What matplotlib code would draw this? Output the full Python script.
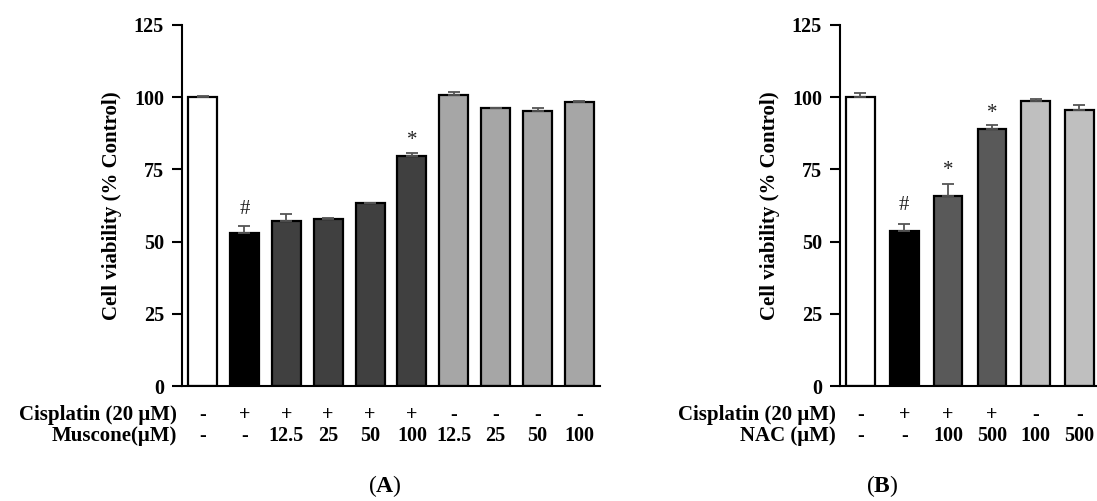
import matplotlib
matplotlib.use("Agg")
import matplotlib.pyplot as plt
import matplotlib.transforms as mtransforms

plt.rcParams['font.family'] = ['Liberation Serif', 'DejaVu Serif']
plt.rcParams['mathtext.fontset'] = 'custom'
plt.rcParams['mathtext.rm'] = 'Liberation Serif'
plt.rcParams['mathtext.bf'] = 'Liberation Serif:bold'

# panel A data
a_values = [100.0, 52.9, 57.3, 57.7, 63.2, 79.6, 100.9, 96.1, 95.2, 98.2]
a_errors = [0.5, 2.6, 2.4, 0.4, 0.3, 1.1, 1.0, 0.3, 0.9, 0.5]
a_colors = ['white', 'black', '#404040', '#404040', '#404040', '#404040',
            '#a6a6a6', '#a6a6a6', '#a6a6a6', '#a6a6a6']
a_cis = ['-', '+', '+', '+', '+', '+', '-', '-', '-', '-']
a_mus = ['-', '-', '12.5', '25', '50', '100', '12.5', '25', '50', '100']
a_marks = {1: ('#', 61), 5: ('*', 85)}

# panel B data
b_values = [100.0, 53.6, 65.9, 88.9, 98.6, 95.5]
b_errors = [1.6, 2.6, 4.2, 1.4, 0.8, 1.7]
b_colors = ['white', 'black', '#595959', '#595959', '#bfbfbf', '#bfbfbf']
b_cis = ['-', '+', '+', '+', '-', '-']
b_nac = ['-', '-', '100', '500', '100', '500']
b_marks = {1: ('#', 62.5), 2: ('*', 74.5), 3: ('*', 94.5)}

W, H = 1097, 501
fig = plt.figure(figsize=(W / 100, H / 100), dpi=100)


def panel(x0, x1, xlim, values, errors, colors, marks, width, row1, row2,
          name1, name2, label_right, ylab_x, letter, letter_x):
    ax = fig.add_axes([x0 / W, (H - 386) / H, (x1 - x0) / W, 361 / H])
    x = list(range(len(values)))
    ax.bar(x, values, width=width, color=colors, edgecolor='black', linewidth=1.6, zorder=2)
    ax.errorbar(x, values, yerr=[[0] * len(values), errors], fmt='none',
                ecolor='#555555', elinewidth=1.3, capsize=4, capthick=1.3, zorder=3)
    for i, (sym, yv) in marks.items():
        ax.text(i, yv, sym, ha='center', va='center', fontsize=15, color='#222222')
    ax.set_xlim(*xlim)
    ax.set_ylim(0, 125)
    ax.set_yticks([0, 25, 50, 75, 100, 125])
    ax.set_xticks([])
    ax.tick_params(axis='y', direction='out', length=7, width=1.5, labelsize=14.5, pad=6)
    for lab in ax.get_yticklabels():
        lab.set_fontweight('bold')
    for s in ['top', 'right']:
        ax.spines[s].set_visible(False)
    ax.spines['left'].set_linewidth(1.5)
    ax.spines['bottom'].set_linewidth(1.5)

    tr = mtransforms.blended_transform_factory(ax.transData, fig.transFigure)
    y1 = (H - 415) / H
    y2 = (H - 436) / H
    for i in x:
        ax.text(i, y1, row1[i], transform=tr, ha='center', va='center',
                fontsize=14.5, fontweight='bold', clip_on=False)
        ax.text(i, y2, row2[i], transform=tr, ha='center', va='center',
                fontsize=14.5, fontweight='bold', clip_on=False)
    fig.text(label_right / W, y1, name1, ha='right', va='center', fontsize=15, fontweight='bold')
    fig.text(label_right / W, y2, name2, ha='right', va='center', fontsize=15, fontweight='bold')
    fig.text(ylab_x / W, (H - 206) / H, 'Cell viability (% Control)', rotation=90,
             ha='center', va='center', fontsize=15, fontweight='bold')
    fig.text(letter_x / W, (H - 486) / H, '(' + r'$\mathbf{' + letter + '}$' + ')',
             ha='center', va='center', fontsize=17)
    return ax


panel(182, 600, (-0.49, 9.49), a_values, a_errors, a_colors, a_marks, 0.69,
      a_cis, a_mus, 'Cisplatin (20 \u03bcM)', 'Muscone(\u03bcM)', 177, 112, 'A', 385)
panel(840, 1097, (-0.468, 5.40), b_values, b_errors, b_colors, b_marks, 0.65,
      b_cis, b_nac, 'Cisplatin (20 \u03bcM)', 'NAC (\u03bcM)', 836, 770, 'B', 882)

fig.savefig('out.png', dpi=100)
